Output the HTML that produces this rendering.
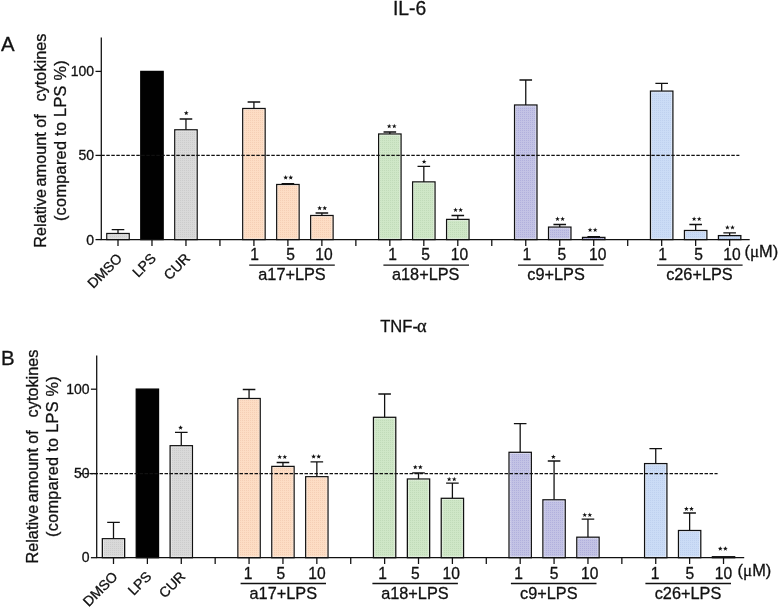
<!DOCTYPE html>
<html><head><meta charset="utf-8"><title>figure</title>
<style>
html,body{margin:0;padding:0;background:#fff;}
body{width:778px;height:608px;overflow:hidden;font-family:"Liberation Sans",sans-serif;}
svg{display:block;will-change:transform;}
svg text{font-family:"Liberation Sans",sans-serif;fill:#111;stroke:#111;stroke-width:0.3px;}
</style></head><body>
<svg width="778" height="608" viewBox="0 0 778 608">
<rect width="778" height="608" fill="#fff"/>
<defs><pattern id="tg" width="2" height="2" patternUnits="userSpaceOnUse"><rect width="2" height="2" fill="#d9d9d9"/><rect width="1" height="1" fill="#cccccc"/></pattern><pattern id="tp" width="2" height="2" patternUnits="userSpaceOnUse"><rect width="2" height="2" fill="#fdddc4"/><rect width="1" height="1" fill="#f5cfb5"/></pattern><pattern id="tn" width="2" height="2" patternUnits="userSpaceOnUse"><rect width="2" height="2" fill="#cfe7c7"/><rect width="1" height="1" fill="#c1dbb9"/></pattern><pattern id="tl" width="2" height="2" patternUnits="userSpaceOnUse"><rect width="2" height="2" fill="#c3c3e5"/><rect width="1" height="1" fill="#b1b0dd"/></pattern><pattern id="tb" width="2" height="2" patternUnits="userSpaceOnUse"><rect width="2" height="2" fill="#cbdcf6"/><rect width="1" height="1" fill="#bfd1ef"/></pattern></defs>
<g id="panelA" opacity="0.999">
<path d="M118.00 233.50V229.70M111.70 229.70H124.30" stroke="#111" stroke-width="1.28" fill="none"/>
<rect x="106.80" y="233.50" width="22.40" height="6.10" fill="url(#tg)" stroke="#111" stroke-width="1.28"/>
<rect x="107.90" y="234.60" width="20.20" height="3.90" fill="none" stroke="#fff" stroke-opacity="0.45" stroke-width="0.9"/>
<rect x="140.78" y="71.40" width="22.40" height="168.20" fill="#000" stroke="#000" stroke-width="1.28"/>
<path d="M185.96 129.80V119.00M179.66 119.00H192.26" stroke="#111" stroke-width="1.28" fill="none"/>
<rect x="174.76" y="129.80" width="22.40" height="109.80" fill="url(#tg)" stroke="#111" stroke-width="1.28"/>
<rect x="175.86" y="130.90" width="20.20" height="107.60" fill="none" stroke="#fff" stroke-opacity="0.45" stroke-width="0.9"/>
<polygon points="186.26,110.60 186.88,112.25 188.64,112.33 187.26,113.42 187.73,115.12 186.26,114.15 184.79,115.12 185.26,113.42 183.88,112.33 185.64,112.25" fill="#111"/>
<path d="M253.92 108.50V102.00M247.62 102.00H260.22" stroke="#111" stroke-width="1.28" fill="none"/>
<rect x="242.72" y="108.50" width="22.40" height="131.10" fill="url(#tp)" stroke="#111" stroke-width="1.28"/>
<rect x="243.82" y="109.60" width="20.20" height="128.90" fill="none" stroke="#fff" stroke-opacity="0.45" stroke-width="0.9"/>
<path d="M287.90 184.50V183.60M281.60 183.60H294.20" stroke="#111" stroke-width="1.28" fill="none"/>
<rect x="276.70" y="184.50" width="22.40" height="55.10" fill="url(#tp)" stroke="#111" stroke-width="1.28"/>
<rect x="277.80" y="185.60" width="20.20" height="52.90" fill="none" stroke="#fff" stroke-opacity="0.45" stroke-width="0.9"/>
<polygon points="285.65,175.10 286.27,176.75 288.03,176.83 286.65,177.92 287.12,179.62 285.65,178.65 284.18,179.62 284.65,177.92 283.27,176.83 285.03,176.75" fill="#111"/><polygon points="290.75,175.10 291.37,176.75 293.13,176.83 291.75,177.92 292.22,179.62 290.75,178.65 289.28,179.62 289.75,177.92 288.37,176.83 290.13,176.75" fill="#111"/>
<path d="M321.88 215.50V213.00M315.58 213.00H328.18" stroke="#111" stroke-width="1.28" fill="none"/>
<rect x="310.68" y="215.50" width="22.40" height="24.10" fill="url(#tp)" stroke="#111" stroke-width="1.28"/>
<rect x="311.78" y="216.60" width="20.20" height="21.90" fill="none" stroke="#fff" stroke-opacity="0.45" stroke-width="0.9"/>
<polygon points="319.63,205.70 320.25,207.35 322.01,207.43 320.63,208.52 321.10,210.22 319.63,209.25 318.16,210.22 318.63,208.52 317.25,207.43 319.01,207.35" fill="#111"/><polygon points="324.73,205.70 325.35,207.35 327.11,207.43 325.73,208.52 326.20,210.22 324.73,209.25 323.26,210.22 323.73,208.52 322.35,207.43 324.11,207.35" fill="#111"/>
<path d="M389.84 134.00V132.00M383.54 132.00H396.14" stroke="#111" stroke-width="1.28" fill="none"/>
<rect x="378.64" y="134.00" width="22.40" height="105.60" fill="url(#tn)" stroke="#111" stroke-width="1.28"/>
<rect x="379.74" y="135.10" width="20.20" height="103.40" fill="none" stroke="#fff" stroke-opacity="0.45" stroke-width="0.9"/>
<polygon points="389.19,123.80 389.81,125.45 391.57,125.53 390.19,126.62 390.66,128.32 389.19,127.35 387.72,128.32 388.19,126.62 386.81,125.53 388.57,125.45" fill="#111"/><polygon points="394.29,123.80 394.91,125.45 396.67,125.53 395.29,126.62 395.76,128.32 394.29,127.35 392.82,128.32 393.29,126.62 391.91,125.53 393.67,125.45" fill="#111"/>
<path d="M423.82 181.90V166.40M417.52 166.40H430.12" stroke="#111" stroke-width="1.28" fill="none"/>
<rect x="412.62" y="181.90" width="22.40" height="57.70" fill="url(#tn)" stroke="#111" stroke-width="1.28"/>
<rect x="413.72" y="183.00" width="20.20" height="55.50" fill="none" stroke="#fff" stroke-opacity="0.45" stroke-width="0.9"/>
<polygon points="424.12,159.30 424.74,160.95 426.50,161.03 425.12,162.12 425.59,163.82 424.12,162.85 422.65,163.82 423.12,162.12 421.74,161.03 423.50,160.95" fill="#111"/>
<path d="M457.80 219.40V215.50M451.50 215.50H464.10" stroke="#111" stroke-width="1.28" fill="none"/>
<rect x="446.60" y="219.40" width="22.40" height="20.20" fill="url(#tn)" stroke="#111" stroke-width="1.28"/>
<rect x="447.70" y="220.50" width="20.20" height="18.00" fill="none" stroke="#fff" stroke-opacity="0.45" stroke-width="0.9"/>
<polygon points="455.55,207.50 456.17,209.15 457.93,209.23 456.55,210.32 457.02,212.02 455.55,211.05 454.08,212.02 454.55,210.32 453.17,209.23 454.93,209.15" fill="#111"/><polygon points="460.65,207.50 461.27,209.15 463.03,209.23 461.65,210.32 462.12,212.02 460.65,211.05 459.18,212.02 459.65,210.32 458.27,209.23 460.03,209.15" fill="#111"/>
<path d="M525.76 105.00V80.00M519.46 80.00H532.06" stroke="#111" stroke-width="1.28" fill="none"/>
<rect x="514.56" y="105.00" width="22.40" height="134.60" fill="url(#tl)" stroke="#111" stroke-width="1.28"/>
<rect x="515.66" y="106.10" width="20.20" height="132.40" fill="none" stroke="#fff" stroke-opacity="0.45" stroke-width="0.9"/>
<path d="M559.74 227.10V224.50M553.44 224.50H566.04" stroke="#111" stroke-width="1.28" fill="none"/>
<rect x="548.54" y="227.10" width="22.40" height="12.50" fill="url(#tl)" stroke="#111" stroke-width="1.28"/>
<rect x="549.64" y="228.20" width="20.20" height="10.30" fill="none" stroke="#fff" stroke-opacity="0.45" stroke-width="0.9"/>
<polygon points="557.49,216.50 558.11,218.15 559.87,218.23 558.49,219.32 558.96,221.02 557.49,220.05 556.02,221.02 556.49,219.32 555.11,218.23 556.87,218.15" fill="#111"/><polygon points="562.59,216.50 563.21,218.15 564.97,218.23 563.59,219.32 564.06,221.02 562.59,220.05 561.12,221.02 561.59,219.32 560.21,218.23 561.97,218.15" fill="#111"/>
<path d="M593.72 237.40V236.60M587.42 236.60H600.02" stroke="#111" stroke-width="1.28" fill="none"/>
<rect x="582.52" y="237.40" width="22.40" height="2.20" fill="url(#tl)" stroke="#111" stroke-width="1.28"/>
<polygon points="590.07,227.50 590.69,229.15 592.45,229.23 591.07,230.32 591.54,232.02 590.07,231.05 588.60,232.02 589.07,230.32 587.69,229.23 589.45,229.15" fill="#111"/><polygon points="595.17,227.50 595.79,229.15 597.55,229.23 596.17,230.32 596.64,232.02 595.17,231.05 593.70,232.02 594.17,230.32 592.79,229.23 594.55,229.15" fill="#111"/>
<path d="M661.68 91.10V83.30M655.38 83.30H667.98" stroke="#111" stroke-width="1.28" fill="none"/>
<rect x="650.48" y="91.10" width="22.40" height="148.50" fill="url(#tb)" stroke="#111" stroke-width="1.28"/>
<rect x="651.58" y="92.20" width="20.20" height="146.30" fill="none" stroke="#fff" stroke-opacity="0.45" stroke-width="0.9"/>
<path d="M695.66 230.50V224.50M689.36 224.50H701.96" stroke="#111" stroke-width="1.28" fill="none"/>
<rect x="684.46" y="230.50" width="22.40" height="9.10" fill="url(#tb)" stroke="#111" stroke-width="1.28"/>
<rect x="685.56" y="231.60" width="20.20" height="6.90" fill="none" stroke="#fff" stroke-opacity="0.45" stroke-width="0.9"/>
<polygon points="694.11,216.50 694.73,218.15 696.49,218.23 695.11,219.32 695.58,221.02 694.11,220.05 692.64,221.02 693.11,219.32 691.73,218.23 693.49,218.15" fill="#111"/><polygon points="699.21,216.50 699.83,218.15 701.59,218.23 700.21,219.32 700.68,221.02 699.21,220.05 697.74,221.02 698.21,219.32 696.83,218.23 698.59,218.15" fill="#111"/>
<path d="M729.64 235.60V232.80M723.34 232.80H735.94" stroke="#111" stroke-width="1.28" fill="none"/>
<rect x="718.44" y="235.60" width="22.40" height="4.00" fill="url(#tb)" stroke="#111" stroke-width="1.28"/>
<polygon points="727.39,225.00 728.01,226.65 729.77,226.73 728.39,227.82 728.86,229.52 727.39,228.55 725.92,229.52 726.39,227.82 725.01,226.73 726.77,226.65" fill="#111"/><polygon points="732.49,225.00 733.11,226.65 734.87,226.73 733.49,227.82 733.96,229.52 732.49,228.55 731.02,229.52 731.49,227.82 730.11,226.73 731.87,226.65" fill="#111"/>
<path d="M101.30 155.40H739.40" stroke="#111" stroke-width="1.25" stroke-dasharray="3.5 1.5" fill="none"/>
<path d="M101.30 37.60V239.60H749.70" stroke="#111" stroke-width="1.28" fill="none"/>
<path d="M95.50 239.60H101.30" stroke="#111" stroke-width="1.28"/>
<text x="94.10" y="244.50" font-size="14" text-anchor="end">0</text>
<path d="M95.50 155.40H101.30" stroke="#111" stroke-width="1.28"/>
<text x="94.10" y="160.30" font-size="14" text-anchor="end">50</text>
<path d="M95.50 71.40H101.30" stroke="#111" stroke-width="1.28"/>
<text x="94.10" y="76.30" font-size="14" text-anchor="end">100</text>
<path d="M118.00 239.60V245.90" stroke="#111" stroke-width="1.28"/>
<path d="M151.98 239.60V245.90" stroke="#111" stroke-width="1.28"/>
<path d="M185.96 239.60V245.90" stroke="#111" stroke-width="1.28"/>
<path d="M219.94 239.60V245.90" stroke="#111" stroke-width="1.28"/>
<path d="M253.92 239.60V245.90" stroke="#111" stroke-width="1.28"/>
<path d="M287.90 239.60V245.90" stroke="#111" stroke-width="1.28"/>
<path d="M321.88 239.60V245.90" stroke="#111" stroke-width="1.28"/>
<path d="M355.86 239.60V245.90" stroke="#111" stroke-width="1.28"/>
<path d="M389.84 239.60V245.90" stroke="#111" stroke-width="1.28"/>
<path d="M423.82 239.60V245.90" stroke="#111" stroke-width="1.28"/>
<path d="M457.80 239.60V245.90" stroke="#111" stroke-width="1.28"/>
<path d="M491.78 239.60V245.90" stroke="#111" stroke-width="1.28"/>
<path d="M525.76 239.60V245.90" stroke="#111" stroke-width="1.28"/>
<path d="M559.74 239.60V245.90" stroke="#111" stroke-width="1.28"/>
<path d="M593.72 239.60V245.90" stroke="#111" stroke-width="1.28"/>
<path d="M627.70 239.60V245.90" stroke="#111" stroke-width="1.28"/>
<path d="M661.68 239.60V245.90" stroke="#111" stroke-width="1.28"/>
<path d="M695.66 239.60V245.90" stroke="#111" stroke-width="1.28"/>
<path d="M729.64 239.60V245.90" stroke="#111" stroke-width="1.28"/>
<text transform="translate(123.00 259.40) rotate(-45)" font-size="14" text-anchor="end">DMSO</text>
<text transform="translate(156.98 259.20) rotate(-45)" font-size="14" text-anchor="end">LPS</text>
<text transform="translate(190.96 259.20) rotate(-45)" font-size="14" text-anchor="end">CUR</text>
<text x="254.50" y="259.80" font-size="15.6" text-anchor="middle">1</text>
<text x="290.50" y="259.80" font-size="15.6" text-anchor="middle">5</text>
<text x="324.00" y="259.80" font-size="15.6" text-anchor="middle">10</text>
<text x="392.50" y="259.80" font-size="15.6" text-anchor="middle">1</text>
<text x="425.70" y="259.80" font-size="15.6" text-anchor="middle">5</text>
<text x="459.50" y="259.80" font-size="15.6" text-anchor="middle">10</text>
<text x="526.90" y="259.80" font-size="15.6" text-anchor="middle">1</text>
<text x="561.90" y="259.80" font-size="15.6" text-anchor="middle">5</text>
<text x="597.70" y="259.80" font-size="15.6" text-anchor="middle">10</text>
<text x="662.50" y="259.80" font-size="15.6" text-anchor="middle">1</text>
<text x="698.50" y="259.80" font-size="15.6" text-anchor="middle">5</text>
<text x="732.00" y="259.80" font-size="15.6" text-anchor="middle">10</text>
<path d="M249.20 265.10H334.80" stroke="#111" stroke-width="1.3"/>
<text x="292.00" y="280.10" font-size="16.3" text-anchor="middle">a17+LPS</text>
<path d="M383.40 265.10H469.00" stroke="#111" stroke-width="1.3"/>
<text x="425.70" y="280.10" font-size="16.3" text-anchor="middle">a18+LPS</text>
<path d="M518.00 265.10H603.60" stroke="#111" stroke-width="1.3"/>
<text x="556.10" y="280.10" font-size="16.3" text-anchor="middle">c9+LPS</text>
<path d="M657.00 265.10H742.60" stroke="#111" stroke-width="1.3"/>
<text x="699.40" y="280.10" font-size="16.3" text-anchor="middle">c26+LPS</text>
<text x="744.50" y="256.80" font-size="16.4">(<tspan font-family="Liberation Serif" font-size="17">μ</tspan>M)</text>
<text transform="translate(46.20 247.70) rotate(-90)" font-size="16.3" xml:space="preserve">Relative<tspan dx="-2.1"> amount</tspan><tspan dx="-0.2"> of</tspan><tspan dx="3.7">  cytokines</tspan></text>
<text transform="translate(65.90 140.70) rotate(-90)" font-size="16.3" text-anchor="middle" textLength="160.8" lengthAdjust="spacing">(compared to LPS %)</text>
<text x="1.00" y="51.00" font-size="20.4">A</text>
<text x="409.6" y="15.1" font-size="19.3" text-anchor="middle">IL-6</text>
</g>
<g id="panelB" opacity="0.999">
<path d="M113.50 538.70V522.30M107.20 522.30H119.80" stroke="#111" stroke-width="1.28" fill="none"/>
<rect x="102.35" y="538.70" width="22.30" height="19.00" fill="url(#tg)" stroke="#111" stroke-width="1.28"/>
<rect x="103.45" y="539.80" width="20.10" height="16.80" fill="none" stroke="#fff" stroke-opacity="0.45" stroke-width="0.9"/>
<rect x="136.24" y="389.10" width="22.30" height="168.60" fill="#000" stroke="#000" stroke-width="1.28"/>
<path d="M181.28 445.70V432.30M174.98 432.30H187.58" stroke="#111" stroke-width="1.28" fill="none"/>
<rect x="170.13" y="445.70" width="22.30" height="112.00" fill="url(#tg)" stroke="#111" stroke-width="1.28"/>
<rect x="171.23" y="446.80" width="20.10" height="109.80" fill="none" stroke="#fff" stroke-opacity="0.45" stroke-width="0.9"/>
<polygon points="180.58,425.20 181.20,426.85 182.96,426.93 181.58,428.02 182.05,429.72 180.58,428.75 179.11,429.72 179.58,428.02 178.20,426.93 179.96,426.85" fill="#111"/>
<path d="M249.06 398.50V389.50M242.76 389.50H255.36" stroke="#111" stroke-width="1.28" fill="none"/>
<rect x="237.91" y="398.50" width="22.30" height="159.20" fill="url(#tp)" stroke="#111" stroke-width="1.28"/>
<rect x="239.01" y="399.60" width="20.10" height="157.00" fill="none" stroke="#fff" stroke-opacity="0.45" stroke-width="0.9"/>
<path d="M282.95 466.40V462.50M276.65 462.50H289.25" stroke="#111" stroke-width="1.28" fill="none"/>
<rect x="271.80" y="466.40" width="22.30" height="91.30" fill="url(#tp)" stroke="#111" stroke-width="1.28"/>
<rect x="272.90" y="467.50" width="20.10" height="89.10" fill="none" stroke="#fff" stroke-opacity="0.45" stroke-width="0.9"/>
<polygon points="279.70,454.50 280.32,456.15 282.08,456.23 280.70,457.32 281.17,459.02 279.70,458.05 278.23,459.02 278.70,457.32 277.32,456.23 279.08,456.15" fill="#111"/><polygon points="284.80,454.50 285.42,456.15 287.18,456.23 285.80,457.32 286.27,459.02 284.80,458.05 283.33,459.02 283.80,457.32 282.42,456.23 284.18,456.15" fill="#111"/>
<path d="M316.84 476.70V461.80M310.54 461.80H323.14" stroke="#111" stroke-width="1.28" fill="none"/>
<rect x="305.69" y="476.70" width="22.30" height="81.00" fill="url(#tp)" stroke="#111" stroke-width="1.28"/>
<rect x="306.79" y="477.80" width="20.10" height="78.80" fill="none" stroke="#fff" stroke-opacity="0.45" stroke-width="0.9"/>
<polygon points="313.59,454.10 314.21,455.75 315.97,455.83 314.59,456.92 315.06,458.62 313.59,457.65 312.12,458.62 312.59,456.92 311.21,455.83 312.97,455.75" fill="#111"/><polygon points="318.69,454.10 319.31,455.75 321.07,455.83 319.69,456.92 320.16,458.62 318.69,457.65 317.22,458.62 317.69,456.92 316.31,455.83 318.07,455.75" fill="#111"/>
<path d="M384.62 417.30V394.00M378.32 394.00H390.92" stroke="#111" stroke-width="1.28" fill="none"/>
<rect x="373.47" y="417.30" width="22.30" height="140.40" fill="url(#tn)" stroke="#111" stroke-width="1.28"/>
<rect x="374.57" y="418.40" width="20.10" height="138.20" fill="none" stroke="#fff" stroke-opacity="0.45" stroke-width="0.9"/>
<path d="M418.51 479.00V472.80M412.21 472.80H424.81" stroke="#111" stroke-width="1.28" fill="none"/>
<rect x="407.36" y="479.00" width="22.30" height="78.70" fill="url(#tn)" stroke="#111" stroke-width="1.28"/>
<rect x="408.46" y="480.10" width="20.10" height="76.50" fill="none" stroke="#fff" stroke-opacity="0.45" stroke-width="0.9"/>
<polygon points="415.26,464.70 415.88,466.35 417.64,466.43 416.26,467.52 416.73,469.22 415.26,468.25 413.79,469.22 414.26,467.52 412.88,466.43 414.64,466.35" fill="#111"/><polygon points="420.36,464.70 420.98,466.35 422.74,466.43 421.36,467.52 421.83,469.22 420.36,468.25 418.89,469.22 419.36,467.52 417.98,466.43 419.74,466.35" fill="#111"/>
<path d="M452.40 498.30V483.10M446.10 483.10H458.70" stroke="#111" stroke-width="1.28" fill="none"/>
<rect x="441.25" y="498.30" width="22.30" height="59.40" fill="url(#tn)" stroke="#111" stroke-width="1.28"/>
<rect x="442.35" y="499.40" width="20.10" height="57.20" fill="none" stroke="#fff" stroke-opacity="0.45" stroke-width="0.9"/>
<polygon points="449.15,476.80 449.77,478.45 451.53,478.53 450.15,479.62 450.62,481.32 449.15,480.35 447.68,481.32 448.15,479.62 446.77,478.53 448.53,478.45" fill="#111"/><polygon points="454.25,476.80 454.87,478.45 456.63,478.53 455.25,479.62 455.72,481.32 454.25,480.35 452.78,481.32 453.25,479.62 451.87,478.53 453.63,478.45" fill="#111"/>
<path d="M520.18 452.30V423.70M513.88 423.70H526.48" stroke="#111" stroke-width="1.28" fill="none"/>
<rect x="509.03" y="452.30" width="22.30" height="105.40" fill="url(#tl)" stroke="#111" stroke-width="1.28"/>
<rect x="510.13" y="453.40" width="20.10" height="103.20" fill="none" stroke="#fff" stroke-opacity="0.45" stroke-width="0.9"/>
<path d="M554.07 499.80V461.00M547.77 461.00H560.37" stroke="#111" stroke-width="1.28" fill="none"/>
<rect x="542.92" y="499.80" width="22.30" height="57.90" fill="url(#tl)" stroke="#111" stroke-width="1.28"/>
<rect x="544.02" y="500.90" width="20.10" height="55.70" fill="none" stroke="#fff" stroke-opacity="0.45" stroke-width="0.9"/>
<polygon points="553.37,454.40 553.99,456.05 555.75,456.13 554.37,457.22 554.84,458.92 553.37,457.95 551.90,458.92 552.37,457.22 550.99,456.13 552.75,456.05" fill="#111"/>
<path d="M587.96 537.20V519.20M581.66 519.20H594.26" stroke="#111" stroke-width="1.28" fill="none"/>
<rect x="576.81" y="537.20" width="22.30" height="20.50" fill="url(#tl)" stroke="#111" stroke-width="1.28"/>
<rect x="577.91" y="538.30" width="20.10" height="18.30" fill="none" stroke="#fff" stroke-opacity="0.45" stroke-width="0.9"/>
<polygon points="584.71,512.50 585.33,514.15 587.09,514.23 585.71,515.32 586.18,517.02 584.71,516.05 583.24,517.02 583.71,515.32 582.33,514.23 584.09,514.15" fill="#111"/><polygon points="589.81,512.50 590.43,514.15 592.19,514.23 590.81,515.32 591.28,517.02 589.81,516.05 588.34,517.02 588.81,515.32 587.43,514.23 589.19,514.15" fill="#111"/>
<path d="M655.74 463.60V448.70M649.44 448.70H662.04" stroke="#111" stroke-width="1.28" fill="none"/>
<rect x="644.59" y="463.60" width="22.30" height="94.10" fill="url(#tb)" stroke="#111" stroke-width="1.28"/>
<rect x="645.69" y="464.70" width="20.10" height="91.90" fill="none" stroke="#fff" stroke-opacity="0.45" stroke-width="0.9"/>
<path d="M689.63 530.50V513.00M683.33 513.00H695.93" stroke="#111" stroke-width="1.28" fill="none"/>
<rect x="678.48" y="530.50" width="22.30" height="27.20" fill="url(#tb)" stroke="#111" stroke-width="1.28"/>
<rect x="679.58" y="531.60" width="20.10" height="25.00" fill="none" stroke="#fff" stroke-opacity="0.45" stroke-width="0.9"/>
<polygon points="686.38,506.40 687.00,508.05 688.76,508.13 687.38,509.22 687.85,510.92 686.38,509.95 684.91,510.92 685.38,509.22 684.00,508.13 685.76,508.05" fill="#111"/><polygon points="691.48,506.40 692.10,508.05 693.86,508.13 692.48,509.22 692.95,510.92 691.48,509.95 690.01,510.92 690.48,509.22 689.10,508.13 690.86,508.05" fill="#111"/>
<rect x="712.37" y="556.70" width="22.30" height="1.00" fill="url(#tb)" stroke="#111" stroke-width="1.28"/>
<polygon points="720.27,546.20 720.89,547.85 722.65,547.93 721.27,549.02 721.74,550.72 720.27,549.75 718.80,550.72 719.27,549.02 717.89,547.93 719.65,547.85" fill="#111"/><polygon points="725.37,546.20 725.99,547.85 727.75,547.93 726.37,549.02 726.84,550.72 725.37,549.75 723.90,550.72 724.37,549.02 722.99,547.93 724.75,547.85" fill="#111"/>
<path d="M79.50 473.60H717.60" stroke="#111" stroke-width="1.25" stroke-dasharray="3.5 1.5" fill="none"/>
<path d="M96.70 355.50V557.70H744.20" stroke="#111" stroke-width="1.28" fill="none"/>
<path d="M90.90 557.70H96.70" stroke="#111" stroke-width="1.28"/>
<text x="89.50" y="562.10" font-size="14" text-anchor="end">0</text>
<path d="M90.90 473.60H96.70" stroke="#111" stroke-width="1.28"/>
<text x="89.50" y="478.00" font-size="14" text-anchor="end">50</text>
<path d="M90.90 389.20H96.70" stroke="#111" stroke-width="1.28"/>
<text x="89.50" y="393.60" font-size="14" text-anchor="end">100</text>
<path d="M113.50 557.70V564.00" stroke="#111" stroke-width="1.28"/>
<path d="M147.39 557.70V564.00" stroke="#111" stroke-width="1.28"/>
<path d="M181.28 557.70V564.00" stroke="#111" stroke-width="1.28"/>
<path d="M215.17 557.70V564.00" stroke="#111" stroke-width="1.28"/>
<path d="M249.06 557.70V564.00" stroke="#111" stroke-width="1.28"/>
<path d="M282.95 557.70V564.00" stroke="#111" stroke-width="1.28"/>
<path d="M316.84 557.70V564.00" stroke="#111" stroke-width="1.28"/>
<path d="M350.73 557.70V564.00" stroke="#111" stroke-width="1.28"/>
<path d="M384.62 557.70V564.00" stroke="#111" stroke-width="1.28"/>
<path d="M418.51 557.70V564.00" stroke="#111" stroke-width="1.28"/>
<path d="M452.40 557.70V564.00" stroke="#111" stroke-width="1.28"/>
<path d="M486.29 557.70V564.00" stroke="#111" stroke-width="1.28"/>
<path d="M520.18 557.70V564.00" stroke="#111" stroke-width="1.28"/>
<path d="M554.07 557.70V564.00" stroke="#111" stroke-width="1.28"/>
<path d="M587.96 557.70V564.00" stroke="#111" stroke-width="1.28"/>
<path d="M621.85 557.70V564.00" stroke="#111" stroke-width="1.28"/>
<path d="M655.74 557.70V564.00" stroke="#111" stroke-width="1.28"/>
<path d="M689.63 557.70V564.00" stroke="#111" stroke-width="1.28"/>
<path d="M723.52 557.70V564.00" stroke="#111" stroke-width="1.28"/>
<text transform="translate(118.50 577.50) rotate(-45)" font-size="14" text-anchor="end">DMSO</text>
<text transform="translate(152.39 577.30) rotate(-45)" font-size="14" text-anchor="end">LPS</text>
<text transform="translate(186.28 577.30) rotate(-45)" font-size="14" text-anchor="end">CUR</text>
<text x="248.10" y="578.80" font-size="15.6" text-anchor="middle">1</text>
<text x="280.80" y="578.80" font-size="15.6" text-anchor="middle">5</text>
<text x="317.00" y="578.80" font-size="15.6" text-anchor="middle">10</text>
<text x="382.50" y="578.80" font-size="15.6" text-anchor="middle">1</text>
<text x="415.40" y="578.80" font-size="15.6" text-anchor="middle">5</text>
<text x="451.20" y="578.80" font-size="15.6" text-anchor="middle">10</text>
<text x="518.70" y="578.80" font-size="15.6" text-anchor="middle">1</text>
<text x="554.10" y="578.80" font-size="15.6" text-anchor="middle">5</text>
<text x="589.80" y="578.80" font-size="15.6" text-anchor="middle">10</text>
<text x="655.10" y="578.80" font-size="15.6" text-anchor="middle">1</text>
<text x="689.80" y="578.80" font-size="15.6" text-anchor="middle">5</text>
<text x="723.50" y="578.80" font-size="15.6" text-anchor="middle">10</text>
<path d="M240.60 583.50H326.00" stroke="#111" stroke-width="1.3"/>
<text x="283.30" y="598.60" font-size="16.3" text-anchor="middle">a17+LPS</text>
<path d="M372.40 583.50H457.90" stroke="#111" stroke-width="1.3"/>
<text x="414.90" y="598.60" font-size="16.3" text-anchor="middle">a18+LPS</text>
<path d="M510.90 583.50H596.50" stroke="#111" stroke-width="1.3"/>
<text x="548.80" y="598.60" font-size="16.3" text-anchor="middle">c9+LPS</text>
<path d="M645.40 583.50H731.00" stroke="#111" stroke-width="1.3"/>
<text x="688.00" y="598.60" font-size="16.3" text-anchor="middle">c26+LPS</text>
<text x="737.60" y="576.10" font-size="16.4">(<tspan font-family="Liberation Serif" font-size="17">μ</tspan>M)</text>
<text transform="translate(37.70 563.60) rotate(-90)" font-size="16.3" xml:space="preserve">Relative<tspan dx="-2.1"> amount</tspan><tspan dx="-0.2"> of</tspan><tspan dx="3.7">  cytokines</tspan></text>
<text transform="translate(57.50 456.60) rotate(-90)" font-size="16.3" text-anchor="middle" textLength="160.8" lengthAdjust="spacing">(compared to LPS %)</text>
<text x="1.10" y="364.70" font-size="20.4">B</text>
<text x="380.2" y="332.4" font-size="16.6">TNF-<tspan font-family="Liberation Serif" font-size="18.2" dx="-1">α</tspan></text>
</g>
</svg>
</body></html>
